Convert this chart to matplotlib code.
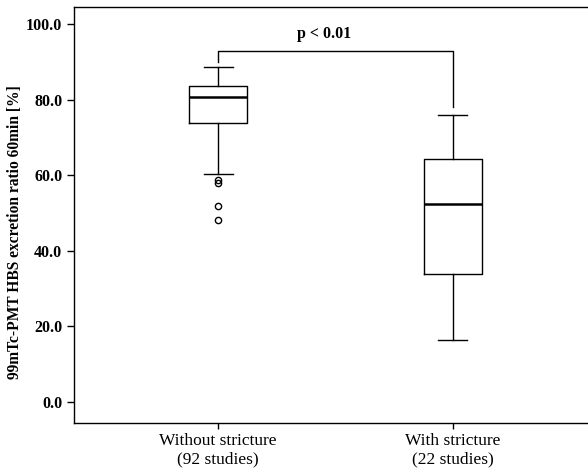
#!/usr/bin/env python3
"""Boxplot: excrecion 99mTc-PMT HBS a 60 min, con y sin estenosis."""
import matplotlib
matplotlib.use("Agg")
import matplotlib.pyplot as plt

plt.rcParams.update({
    "font.family": "serif", "font.serif": ["Liberation Serif", "DejaVu Serif"],
})

# valores
groups = ["Without stricture\n(92 studies)", "With stricture\n(22 studies)"]
whis_low = [60.3, 16.4]
q1 = [73.8, 33.9]
median = [80.7, 52.4]
q3 = [83.5, 64.3]
whis_high = [88.6, 75.9]
outliers = [[58.6, 57.8, 51.9, 48.1], []]
y_ticks = [0, 20, 40, 60, 80, 100]
p_text = "p < 0.01"
bracket_y = 92.9
bracket_ends = [90.0, 78.0]

stats = []
for i, g in enumerate(groups):
    stats.append({"label": g, "whislo": whis_low[i], "q1": q1[i], "med": median[i],
                  "q3": q3[i], "whishi": whis_high[i], "fliers": outliers[i]})

fig = plt.figure(figsize=(5.88, 4.74), dpi=100)
ax = fig.add_axes([74 / 588, 1 - 423 / 474, (597 - 74) / 588, (423 - 7) / 474])

lw = 1.0
ax.bxp(stats, positions=[1, 2], widths=0.248, showfliers=True,
       boxprops=dict(color="black", linewidth=lw),
       whiskerprops=dict(color="black", linewidth=lw),
       capprops=dict(color="black", linewidth=lw),
       medianprops=dict(color="black", linewidth=1.8),
       flierprops=dict(marker="o", markersize=4.5, markerfacecolor="none",
                       markeredgecolor="black", markeredgewidth=1.0))

# corchete de significancia
ax.plot([1, 1, 2, 2], [bracket_ends[0], bracket_y, bracket_y, bracket_ends[1]],
        color="black", lw=lw)
ax.text(1.45, bracket_y + 2.3, p_text, ha="center", va="bottom",
        fontsize=11.5, fontweight="bold")

ax.set_xlim(0.385, 2.615)
ax.set_ylim(-5.6, 104.5)
ax.set_yticks(y_ticks)
ax.set_yticklabels([f"{v:.1f}" for v in y_ticks], fontweight="bold", fontsize=11.5)
ax.set_xticks([1, 2])
ax.set_xticklabels(groups, fontsize=12.5, linespacing=1.25)
ax.tick_params(axis="y", length=5, width=1)
ax.tick_params(axis="x", length=4, width=1, pad=3)
ax.set_ylabel("99mTc-PMT HBS excretion ratio 60min [%]", fontweight="bold",
              fontsize=11.2)
ax.yaxis.set_label_coords(-0.097, 0.46)
for s in ax.spines.values():
    s.set_linewidth(1.0)

fig.savefig("out.png", dpi=100)
